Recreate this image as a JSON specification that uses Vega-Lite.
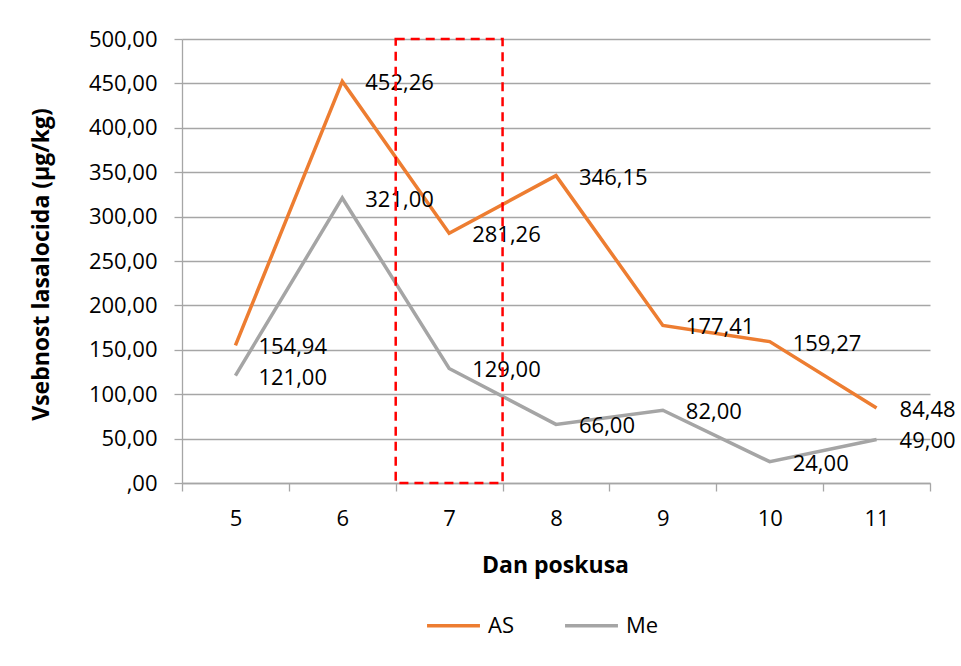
{
  "$schema": "https://vega.github.io/schema/vega-lite/v6.json",
  "width": 748,
  "height": 444,
  "autosize": {"type": "none"},
  "padding": {"left": 182, "top": 39, "right": 31, "bottom": 183},
  "background": "white",
  "config": {
    "locale": {"number": {"decimal": ",", "thousands": ".", "grouping": [3], "currency": ["", " €"]}},
    "font": "Open Sans",
    "view": {"stroke": null},
    "axis": {
      "labelFont": "Open Sans",
      "titleFont": "Open Sans",
      "labelColor": "#000000",
      "titleColor": "#000000",
      "labelFontSize": 22,
      "titleFontSize": 23,
      "titleFontWeight": "bold",
      "domainColor": "#a6a6a6",
      "tickColor": "#a6a6a6",
      "gridColor": "#a6a6a6",
      "domainWidth": 1.3,
      "tickWidth": 1.3,
      "gridWidth": 1.3
    }
  },
  "datasets": {
    "series": [
      {"day": 5, "series": "AS", "value": 154.94},
      {"day": 6, "series": "AS", "value": 452.26},
      {"day": 7, "series": "AS", "value": 281.26},
      {"day": 8, "series": "AS", "value": 346.15},
      {"day": 9, "series": "AS", "value": 177.41},
      {"day": 10, "series": "AS", "value": 159.27},
      {"day": 11, "series": "AS", "value": 84.48},
      {"day": 5, "series": "Me", "value": 121},
      {"day": 6, "series": "Me", "value": 321},
      {"day": 7, "series": "Me", "value": 129},
      {"day": 8, "series": "Me", "value": 66},
      {"day": 9, "series": "Me", "value": 82},
      {"day": 10, "series": "Me", "value": 24},
      {"day": 11, "series": "Me", "value": 49}
    ],
    "box": [
      {"day": 7, "lo": 0, "hi": 500}
    ]
  },
  "layer": [
    {
      "data": {"name": "series"},
      "mark": {"type": "line", "strokeWidth": 3.5},
      "encoding": {
        "x": {
          "field": "day",
          "type": "ordinal",
          "scale": {"type": "band", "paddingInner": 0, "paddingOuter": 0},
          "axis": {
            "title": "Dan poskusa",
            "labelAngle": 0,
            "tickBand": "extent",
            "tickSize": 8,
            "labelPadding": 27,
            "labelBaseline": "middle",
            "grid": false,
            "titleX": 373,
            "titleY": 82,
            "titleAlign": "center",
            "titleBaseline": "middle"
          }
        },
        "y": {
          "field": "value",
          "type": "quantitative",
          "scale": {"domain": [0, 500], "nice": false, "zero": true},
          "axis": {
            "title": "Vsebnost lasalocida (µg/kg)",
            "values": [0, 50, 100, 150, 200, 250, 300, 350, 400, 450, 500],
            "labelExpr": "datum.value == 0 ? ',00' : replace(format(datum.value, '.2f'), '.', ',')",
            "tickSize": 8,
            "labelPadding": 17,
            "grid": true,
            "titleX": -141,
            "titleY": 225,
            "titleAngle": -90,
            "titleAlign": "center",
            "titleBaseline": "middle"
          }
        },
        "color": {
          "field": "series",
          "type": "nominal",
          "scale": {"domain": ["AS", "Me"], "range": ["#ED7D31", "#A5A5A5"]},
          "legend": {
            "orient": "none",
            "legendX": 243,
            "legendY": 558,
            "direction": "horizontal",
            "title": null,
            "symbolType": "stroke",
            "symbolSize": 2800,
            "symbolStrokeWidth": 3.5,
            "labelFontSize": 22,
            "labelFont": "Open Sans",
            "labelColor": "#000000",
            "labelOffset": 6,
            "columnPadding": 44
          }
        }
      }
    },
    {
      "data": {"name": "series"},
      "mark": {"type": "text", "align": "left", "baseline": "middle", "dx": 23, "dy": 2, "fontSize": 22, "font": "Open Sans", "color": "#000000"},
      "encoding": {
        "x": {"field": "day", "type": "ordinal"},
        "y": {"field": "value", "type": "quantitative"},
        "text": {"field": "value", "type": "quantitative", "format": ".2f"}
      }
    },
    {
      "data": {"name": "box"},
      "mark": {"type": "rect", "fill": null, "stroke": "#ff0000", "strokeWidth": 2.5, "strokeDash": [9, 6]},
      "encoding": {
        "x": {"field": "day", "type": "ordinal"},
        "y": {"field": "lo", "type": "quantitative"},
        "y2": {"field": "hi"}
      }
    }
  ]
}
